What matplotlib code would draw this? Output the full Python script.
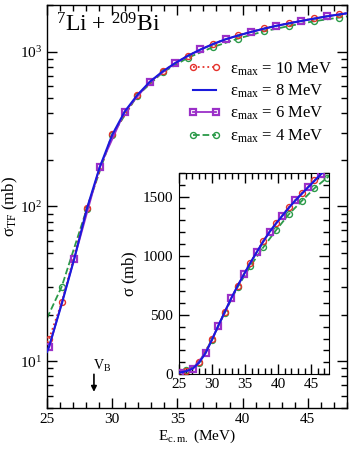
import numpy as np
import matplotlib
matplotlib.use('Agg')
import matplotlib.pyplot as plt
from matplotlib.ticker import MultipleLocator, LogLocator, NullFormatter

plt.rcParams['font.family'] = ['Liberation Serif', 'DejaVu Serif']
plt.rcParams['mathtext.fontset'] = 'stix'
plt.rcParams['mathtext.default'] = 'regular'
plt.rcParams['xtick.direction'] = 'in'
plt.rcParams['ytick.direction'] = 'in'

# E_cm grids (MeV)
e_even = [25.16, 27.09, 29.03, 30.96, 32.90, 34.84, 36.77, 38.71, 40.64, 42.58, 44.51, 46.45, 48.38]
e_odd = [25.16, 26.13, 28.06, 30.00, 31.93, 33.87, 35.80, 37.74, 39.67, 41.61, 43.55, 45.48, 47.42, 48.38]
e_fine = [25.0, 25.16, 26.13, 27.09, 28.06, 29.03, 30.00, 30.96, 31.93, 32.90, 33.87, 34.84, 35.80,
          36.77, 37.74, 38.71, 39.67, 40.64, 41.61, 42.58, 43.55, 44.51, 45.48, 46.45, 47.42, 48.38]

# cross sections (mb)
sig_10 = [14.0, 24.0, 98, 292, 525, 748, 942, 1125, 1278, 1410, 1528, 1638, 1742, 1790]
sig_8 = [11.5, 12.5, 23.5, 46, 97, 178, 290, 410, 525, 640, 745, 844, 940,
         1031, 1120, 1202, 1272, 1338, 1405, 1466, 1522, 1577, 1632, 1688, 1738, 1785]
sig_6 = [12.3, 46, 179, 410, 640, 845, 1032, 1203, 1340, 1468, 1580, 1690, 1788]
sig_4 = [19.0, 30.4, 97, 290, 520, 735, 912, 1070, 1215, 1350, 1462, 1570, 1660, 1705]
e_4 = [25.0, 26.13, 28.06, 30.00, 31.93, 33.87, 35.80, 37.74, 39.67, 41.61, 43.55, 45.48, 47.42, 48.38]

labels = [r'$\varepsilon_{max}$ = 10 MeV', r'$\varepsilon_{max}$ = 8 MeV',
          r'$\varepsilon_{max}$ = 6 MeV', r'$\varepsilon_{max}$ = 4 MeV']

red = '#e5312b'
blue = '#1a1adc'
purple = '#9b30c8'
green = '#2a9a48'


def draw(ax):
    ax.plot(e_4, sig_4, '--', color=green, lw=1.3, marker='o', ms=4.3, mfc='none', mew=1.0,
            markevery=list(range(1, len(e_4))), label=labels[3], zorder=2)
    ax.plot(e_odd, sig_10, ':', color=red, lw=1.3, marker='o', ms=4.3, mfc='none', mew=1.0,
            label=labels[0], zorder=3)
    ax.plot(e_even, sig_6, '-', color=purple, lw=1.3, marker='s', ms=4.3, mfc='none', mew=1.6,
            label=labels[2], zorder=3)
    ax.plot(e_fine, sig_8, '-', color=blue, lw=1.5, label=labels[1], zorder=4)


fig = plt.figure(figsize=(3.54, 4.49), dpi=100)
ax = fig.add_axes([0.1328, 0.0913, 0.847, 0.8976])
draw(ax)
ax.set_yscale('log')
ax.set_xlim(25, 48)
ax.set_ylim(5, 2000)
ax.xaxis.set_major_locator(MultipleLocator(5))
ax.xaxis.set_minor_locator(MultipleLocator(1))
ax.yaxis.set_major_locator(LogLocator(base=10, numticks=10))
ax.yaxis.set_minor_locator(LogLocator(base=10, subs=np.arange(2, 10), numticks=20))
ax.yaxis.set_minor_formatter(NullFormatter())
ax.tick_params(which='both', top=True, right=True, labelsize=11)
ax.tick_params(which='major', length=7, width=1)
ax.tick_params(which='minor', length=4, width=1)
ax.set_xlabel(r'E$_{c.m.}$ (MeV)', fontsize=11, labelpad=1)
ax.set_ylabel(r'$\sigma_{TF}$ (mb)', fontsize=12, labelpad=0)
ax.text(0.03, 0.98, r'$^{7}$Li + $^{209}$Bi', transform=ax.transAxes, fontsize=17,
        va='top', ha='left')

# V_B arrow
ax.annotate('', xy=(28.6, 6.1), xytext=(28.6, 8.6),
            arrowprops=dict(arrowstyle='-|>', color='black', lw=1.2, mutation_scale=8))
ax.text(28.55, 8.3, r'V$_{B}$', fontsize=10, ha='left', va='bottom')

handles, labs = ax.get_legend_handles_labels()
order = [1, 3, 2, 0]
leg = ax.legend([handles[i] for i in order], [labs[i] for i in order], loc='upper right',
                bbox_to_anchor=(1.0, 0.9), frameon=False, fontsize=12, numpoints=2,
                handlelength=2.0, handletextpad=0.5, labelspacing=0.3)

for s in ax.spines.values():
    s.set_linewidth(1.0)

# inset
axi = fig.add_axes([0.5056, 0.167, 0.4237, 0.4477])
draw(axi)
axi.set_xlim(25, 47.7)
axi.set_ylim(0, 1700)
axi.xaxis.set_major_locator(MultipleLocator(5))
axi.xaxis.set_minor_locator(MultipleLocator(1))
axi.yaxis.set_major_locator(MultipleLocator(500))
axi.yaxis.set_minor_locator(MultipleLocator(100))
axi.tick_params(which='both', top=True, right=True, labelsize=11)
axi.tick_params(axis='x', pad=3)
axi.tick_params(axis='y', pad=4)
axi.tick_params(which='major', length=7, width=1)
axi.tick_params(which='minor', length=4, width=1)
axi.set_ylabel(r'$\sigma$ (mb)', fontsize=12, labelpad=2)

fig.savefig('out.png', dpi=100)
